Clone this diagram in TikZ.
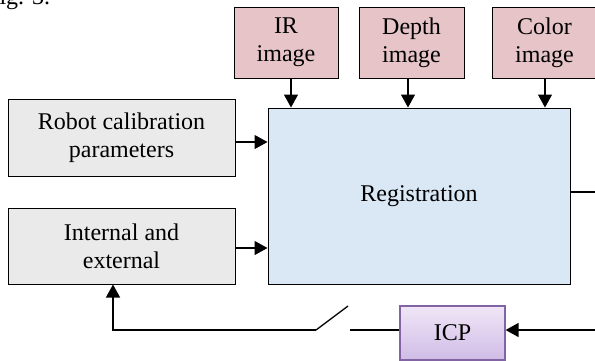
\documentclass[tikz,border=0pt]{standalone}
\usepackage{fontspec}
\setmainfont{Liberation Serif}
\usetikzlibrary{arrows.meta}
\definecolor{grayfill}{RGB}{234,234,234}
\definecolor{pinkfill}{RGB}{230,196,199}
\definecolor{bluefill}{RGB}{218,232,246}
\definecolor{purptop}{RGB}{240,230,247}
\definecolor{purpbot}{RGB}{208,188,230}
\definecolor{purpline}{RGB}{130,100,165}
\begin{document}
\begin{tikzpicture}[x=1pt,y=-1pt,
  box/.style={draw=black, line width=1pt, inner sep=0pt, align=center,
    font=\fontsize{24}{28}\selectfont},
  graybox/.style={box, fill=grayfill},
  pinkbox/.style={box, fill=pinkfill},
  bluebox/.style={box, fill=bluefill},
  purplebox/.style={box, draw=purpline, line width=1.2pt, top color=purptop, bottom color=purpbot},
  arr/.style={-{Triangle[length=13pt,width=14pt]}, line width=1.3pt},
  ln/.style={line width=1.3pt}]
\useasboundingbox (0,0) rectangle (595,360);
\node[anchor=base west, font=\fontsize{24}{28}\selectfont] (fig) at (-4,4) {ig. 3.};
\node[graybox, minimum width=227pt, minimum height=77pt] (robot) at (121.5,137.5) {Robot calibration\\parameters};
\node[graybox, minimum width=227pt, minimum height=76pt] (intext) at (121.5,246) {Internal and\\external};
\node[pinkbox, minimum width=104pt, minimum height=71pt] (ir) at (286,42.5) {IR\\image};
\node[pinkbox, minimum width=105pt, minimum height=71pt] (depth) at (411.5,42.5) {Depth\\image};
\node[pinkbox, minimum width=105pt, minimum height=71pt] (color) at (544.5,42.5) {Color\\image};
\node[bluebox, minimum width=302pt, minimum height=176pt] (reg) at (419,196) {Registration};
\node[purplebox, minimum width=105pt, minimum height=54pt] (icp) at (452.5,333) {ICP};
\coordinate (rout) at (597,192);
\coordinate (icpin) at (597,330);
\coordinate (sw1) at (350,330);
\coordinate (sw2) at (316,330);
\coordinate (swtip) at (348,306);
\coordinate (corner) at (113,330);
\draw[arr] (ir.south -| 291,0) -- (reg.north -| 291,0);
\draw[arr] (depth.south -| 408,0) -- (reg.north -| 408,0);
\draw[arr] (color.south -| 545,0) -- (reg.north -| 545,0);
\draw[arr] (robot.east |- 0,142) -- (reg.west |- 0,142);
\draw[arr] (intext.east |- 0,248) -- (reg.west |- 0,248);
\draw[ln] (reg.east |- rout) -- (rout);
\draw[arr] (icpin) -- (icp.east |- icpin);
\draw[ln] (icp.west |- sw1) -- (sw1);
\draw[ln] (swtip) -- (sw2);
\draw[arr] (sw2) -- (corner) -- (intext.south -| corner);
\end{tikzpicture}
\end{document}
